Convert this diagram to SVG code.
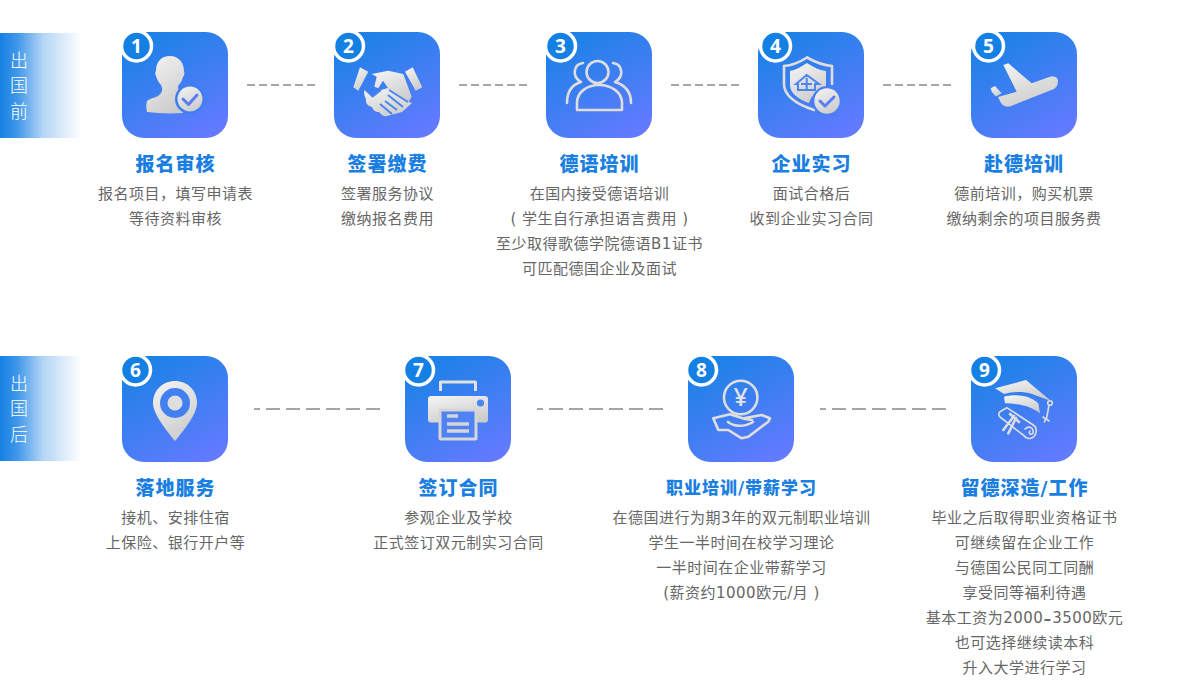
<svg xmlns="http://www.w3.org/2000/svg" width="1200" height="692" viewBox="0 0 1200 692">
<style>
text{font-family:"DejaVu Sans","Noto Sans CJK SC",sans-serif}
.t{font-size:19px;font-weight:900;fill:#1a7fe0;text-anchor:middle;letter-spacing:1px}
.t2{font-size:17px;font-weight:900;fill:#1a7fe0;text-anchor:middle;letter-spacing:1px}
.b{font-size:15px;fill:#666;text-anchor:middle;letter-spacing:.5px}
.c{font-family:"Noto Sans CJK SC",sans-serif}
.s{font-size:18px;font-weight:300;fill:#fff;text-anchor:middle;font-family:"Noto Sans CJK SC",sans-serif}
.n{font-family:"Open Sans","Noto Sans",sans-serif;font-size:19px;font-weight:700;fill:#fff;text-anchor:middle}
.tile{fill:url(#tg)}
.ring{fill:#1580e4;stroke:#fff;stroke-width:3.5}
.f{fill:url(#ig)}
.o{fill:none;stroke:#dedede;stroke-width:2.6;stroke-linecap:round;stroke-linejoin:round}
.o2{fill:none;stroke:#dedede;stroke-width:1.600;stroke-linecap:round;stroke-linejoin:round}
.d1{stroke:#a5a5a5;stroke-width:2;stroke-dasharray:8 4;fill:none}
.d2{stroke:#a5a5a5;stroke-width:2;stroke-dasharray:14 6;stroke-dashoffset:8;fill:none}
.ck{fill:none;stroke:#5b7df5;stroke-width:3;stroke-linecap:round;stroke-linejoin:round}
.bl{fill:none;stroke:#4a85f0;stroke-width:2}
</style>
<defs>
<linearGradient id="tg" x1="0.25" y1="0" x2="0.8" y2="1"><stop offset="0" stop-color="#1a82e6"/><stop offset="1" stop-color="#647aff"/></linearGradient>
<linearGradient id="ig" x1="0.2" y1="0" x2="0.7" y2="1"><stop offset="0" stop-color="#f2f2f2"/><stop offset="1" stop-color="#cbcbcb"/></linearGradient>
<linearGradient id="sg"><stop offset="0" stop-color="#1580e4"/><stop offset="0.2" stop-color="#3f97e9"/><stop offset="0.5" stop-color="#b4d5f5"/><stop offset="0.95" stop-color="#fff"/></linearGradient>
</defs>
<rect width="1200" height="692" fill="#fff"/>

<g id="band-before"><rect x="0" y="33" width="86" height="105" fill="url(#sg)"/><text class="s" x="19" y="67">出</text><text class="s" x="19" y="92">国</text><text class="s" x="19" y="118">前</text></g>
<g id="band-after"><rect x="0" y="356" width="86" height="105" fill="url(#sg)"/><text class="s" x="19" y="390">出</text><text class="s" x="19" y="415">国</text><text class="s" x="19" y="441">后</text></g>

<g id="connectors">
<path class="d1" d="M247 85H315"/><path class="d1" d="M459 85H527"/><path class="d1" d="M671 85H739"/><path class="d1" d="M883 85H951"/>
<path class="d2" d="M254 409H380"/><path class="d2" d="M537 409H663"/><path class="d2" d="M820 409H946"/>
</g>

<g id="node1">
<rect class="tile" x="122" y="32" width="106" height="106" rx="22"/>
<path class="f" d="M170 56C179 56 184 63 184 71C185 73 184 76 183 77C182 81 180 84 178 86C178 89 179 92 182 94L183 113C168 114 156 113 147 112C146 108 146 104 147 101C152 97 158 98 161 93C163 90 162 87 161 85C158 82 157 79 156 76C155 74 155 72 156 71C156 62 161 56 170 56Z"/>
<circle cx="190" cy="99" r="15" fill="#3f7ef2"/><circle class="f" cx="190" cy="99" r="12.5"/><path class="ck" d="M183 99L188.500 104.500L197 95"/>
<circle class="ring" cx="136.500" cy="46" r="15"/><text class="n" x="136.500" y="52.500">1</text>
<text class="t" x="175.500" y="170.500">报名审核</text><text class="b c" x="175.500" y="199">报名项目&#xFF0C;填写申请表</text><text class="b" x="175.500" y="224">等待资料审核</text>
</g>

<g id="node2">
<rect class="tile" x="334" y="32" width="106" height="106" rx="22"/>
<path class="f" d="M360 67.300L368.300 71.700L358.300 90.700L353.300 87.300Z"/><path class="f" d="M405 71.700L412.700 67.300L422.300 87.300L415.700 90.700Z"/>
<path class="f" d="M371.700 74L388.300 70.700L403.300 74L411.700 96.700L408 103L388 88L383 80.700L378.300 88.300L374.300 86.700L376.700 76.700Z"/>
<path class="f" d="M364.300 90L372 97L381 90L388 88L409 102L412 103L402 112L387 116C383 117 381 114 379 112C375 112 373 110 372 107C368 106 365 103 366 99C364 96 364 93 364.300 90Z"/>
<path class="bl" d="M389 90L408 102M388 95L403 107M385 101L397 110M380 104L392 114"/>
<path d="M372 97L381 90" class="bl" stroke-width="1"/>
<circle class="ring" cx="348.500" cy="46" r="15"/><text class="n" x="348.500" y="52.500">2</text>
<text class="t" x="387.500" y="170.500">签署缴费</text><text class="b" x="387.500" y="199">签署服务协议</text><text class="b" x="387.500" y="224">缴纳报名费用</text>
</g>

<g id="node3">
<rect class="tile" x="546" y="32" width="106" height="106" rx="22"/>
<circle class="o" cx="597.500" cy="72" r="11"/>
<path class="o" d="M577 110V103C577 92 587 85 599 85C611 85 622 92 622 103V110Z"/>
<path class="o" d="M583 63C574 64 571 76 581 82C571 85 567 92 567 103"/>
<path class="o" d="M613 63C622 64 625 76 615 82C625 85 631 92 631 103"/>
<circle class="ring" cx="560.500" cy="46" r="15"/><text class="n" x="560.500" y="52.500">3</text>
<text class="t" x="599.500" y="170.500">德语培训</text><text class="b" x="599.500" y="199">在国内接受德语培训</text><text class="b" x="599.500" y="224">( 学生自行承担语言费用 )</text><text class="b" x="599.500" y="249">至少取得歌德学院德语B1证书</text><text class="b" x="599.500" y="274">可匹配德国企业及面试</text>
</g>

<g id="node4">
<rect class="tile" x="758" y="32" width="106" height="106" rx="22"/>
<path class="o" stroke-width="2" d="M807 57.500C800 62 792 65.500 784 66V84C784 96 796 104 814 110"/>
<path class="o" stroke-width="2" d="M807 57.500C815 62 824 65.500 832 66V84"/>
<path class="f" d="M807 63C801 67 795 70 790 71V85C790 93 798 99 809 103C811 96 818 89 826 87V71C819 70 813 67 807 63Z"/>
<path class="bl" stroke-width="2.200" d="M796 84L806.700 75L819 84H815V90H798V84ZM801 84H812M806.700 78V90"/>
<circle cx="827" cy="101" r="15" fill="#4a7ff3"/><circle class="f" cx="827" cy="101" r="12.700"/><path class="ck" d="M820 101L825 106L834 97"/>
<circle class="ring" cx="775.500" cy="46" r="15"/><text class="n" x="775.500" y="52.500">4</text>
<text class="t" x="811.500" y="170.500">企业实习</text><text class="b" x="811.500" y="199">面试合格后</text><text class="b" x="811.500" y="224">收到企业实习合同</text>
</g>

<g id="node5">
<rect class="tile" x="971" y="32" width="106" height="106" rx="22"/>
<path class="f" d="M1058 81C1058 77 1054 76 1050 76.700L1031.700 83.300L1008.300 63.300L1003.300 65L1016.700 91.700L998 97L1001 103C1003 106 1006 107 1010 106.500L1054 89C1057 87 1058 84 1058 81Z"/>
<path class="f" d="M990.700 88.300L995 86L1001.700 93.300L996 96.500C993 94 991 91 990.700 88.300Z"/>
<circle class="ring" cx="988.500" cy="46" r="15"/><text class="n" x="988.500" y="52.500">5</text>
<text class="t" x="1024" y="170.500">赴德培训</text><text class="b c" x="1024" y="199">德前培训&#xFF0C;购买机票</text><text class="b" x="1024" y="224">缴纳剩余的项目服务费</text>
</g>

<g id="node6">
<rect class="tile" x="122" y="356" width="106" height="106" rx="22"/>
<path class="f" d="M175 381C187 381 197 390 197 403C197 414 184 430 175 441C166 430 153 414 153 403C153 390 163 381 175 381Z"/>
<circle cx="175" cy="403" r="15" fill="#4280f2"/><circle cx="175" cy="403" r="7.500" fill="#dedede"/>
<circle class="ring" cx="135.500" cy="370" r="15"/><text class="n" x="135.500" y="376.500">6</text>
<text class="t" x="175.500" y="494.500">落地服务</text><text class="b" x="175.500" y="523">接机、安排住宿</text><text class="b" x="175.500" y="548">上保险、银行开户等</text>
</g>

<g id="node7">
<rect class="tile" x="405" y="356" width="106" height="106" rx="22"/>
<path d="M440.500 391V382H475.500V391" fill="none" stroke="#e0e0e0" stroke-width="3" stroke-linejoin="round"/>
<rect class="f" x="428" y="396" width="60" height="26.500" rx="3"/>
<circle cx="480.500" cy="403" r="3.600" fill="#4a85f0"/>
<rect x="440" y="410" width="36" height="29" rx="1" fill="#4f82f4" stroke="#d6d6d6" stroke-width="3"/>
<path d="M447 416H458M447 424H469M447 431H469" stroke="#d6d6d6" stroke-width="3.500" fill="none"/>
<circle class="ring" cx="418.500" cy="370" r="15"/><text class="n" x="418.500" y="376.500">7</text>
<text class="t" x="458.500" y="494.500">签订合同</text><text class="b" x="458.500" y="523">参观企业及学校</text><text class="b" x="458.500" y="548">正式签订双元制实习合同</text>
</g>

<g id="node8">
<rect class="tile" x="688" y="356" width="106" height="106" rx="22"/>
<circle class="o" cx="740.700" cy="397.500" r="16.700"/>
<text x="740.700" y="406" font-size="25" font-weight="500" fill="#e4e4e4" text-anchor="middle" style="font-family:'Noto Sans',sans-serif">¥</text>
<path class="o" d="M745 418L761.700 415L770 418.300L768.300 421.700L748.300 436.700L741.700 438.300L728.300 430L718.300 430L713.300 418.300L730 414.300L745 419L752 420"/>
<path class="o" d="M728 422C733 426 743 428 753 422"/>
<circle class="ring" cx="701.500" cy="370" r="15"/><text class="n" x="701.500" y="376.500">8</text>
<text class="t2" x="741.500" y="494">职业培训/带薪学习</text><text class="b" x="741.500" y="523">在德国进行为期3年的双元制职业培训</text><text class="b" x="741.500" y="548">学生一半时间在校学习理论</text><text class="b" x="741.500" y="573">一半时间在企业带薪学习</text><text class="b" x="741.500" y="598">(薪资约1000欧元/月 )</text>
</g>

<g id="node9">
<rect class="tile" x="971" y="356" width="106" height="106" rx="22"/>
<path class="f" d="M995 388.300L1026 380L1051 401L1032 394C1022 391 1012 392 1004 394Z"/>
<path class="f" d="M1004 396.700C1013 394.500 1028 394 1038.300 403.300L1040 413.300C1030 406 1018 403.500 1005 403.300Z"/>
<circle class="o2" cx="1050" cy="403" r="2.300"/>
<path class="o2" d="M1049 405L1046.700 418M1043 417L1049 421M1045.500 419L1044.500 422"/>
<path class="o2" d="M1000 411.700L1006.700 407.700L1033.300 425C1038 428 1037 437 1030 438.500C1026 439 1024 436 1023.300 435C1015 429 1008 423 1000 417C998.500 415 998.500 413 1000 411.700Z"/>
<path class="o2" d="M1025 429C1029 425 1034 428 1033 433C1031 436 1028 433 1030 431"/>
<path class="o" stroke-width="1.800" d="M1014 416L1003.300 430M1016 418L1008.300 433.300M1010 414L1019 422"/>
<circle class="ring" cx="984.500" cy="370" r="15"/><text class="n" x="984.500" y="376.500">9</text>
<text class="t" x="1024.500" y="494.500">留德深造/工作</text><text class="b" x="1024.500" y="523">毕业之后取得职业资格证书</text><text class="b" x="1024.500" y="548">可继续留在企业工作</text><text class="b" x="1024.500" y="573">与德国公民同工同酬</text><text class="b" x="1024.500" y="598">享受同等福利待遇</text><text class="b" x="1024.500" y="623">基本工资为2000<tspan font-size="23" dy="2.500">-</tspan><tspan dy="-2.500">3500</tspan>欧元</text><text class="b" x="1024.500" y="648">也可选择继续读本科</text><text class="b" x="1024.500" y="673">升入大学进行学习</text>
</g>
</svg>
